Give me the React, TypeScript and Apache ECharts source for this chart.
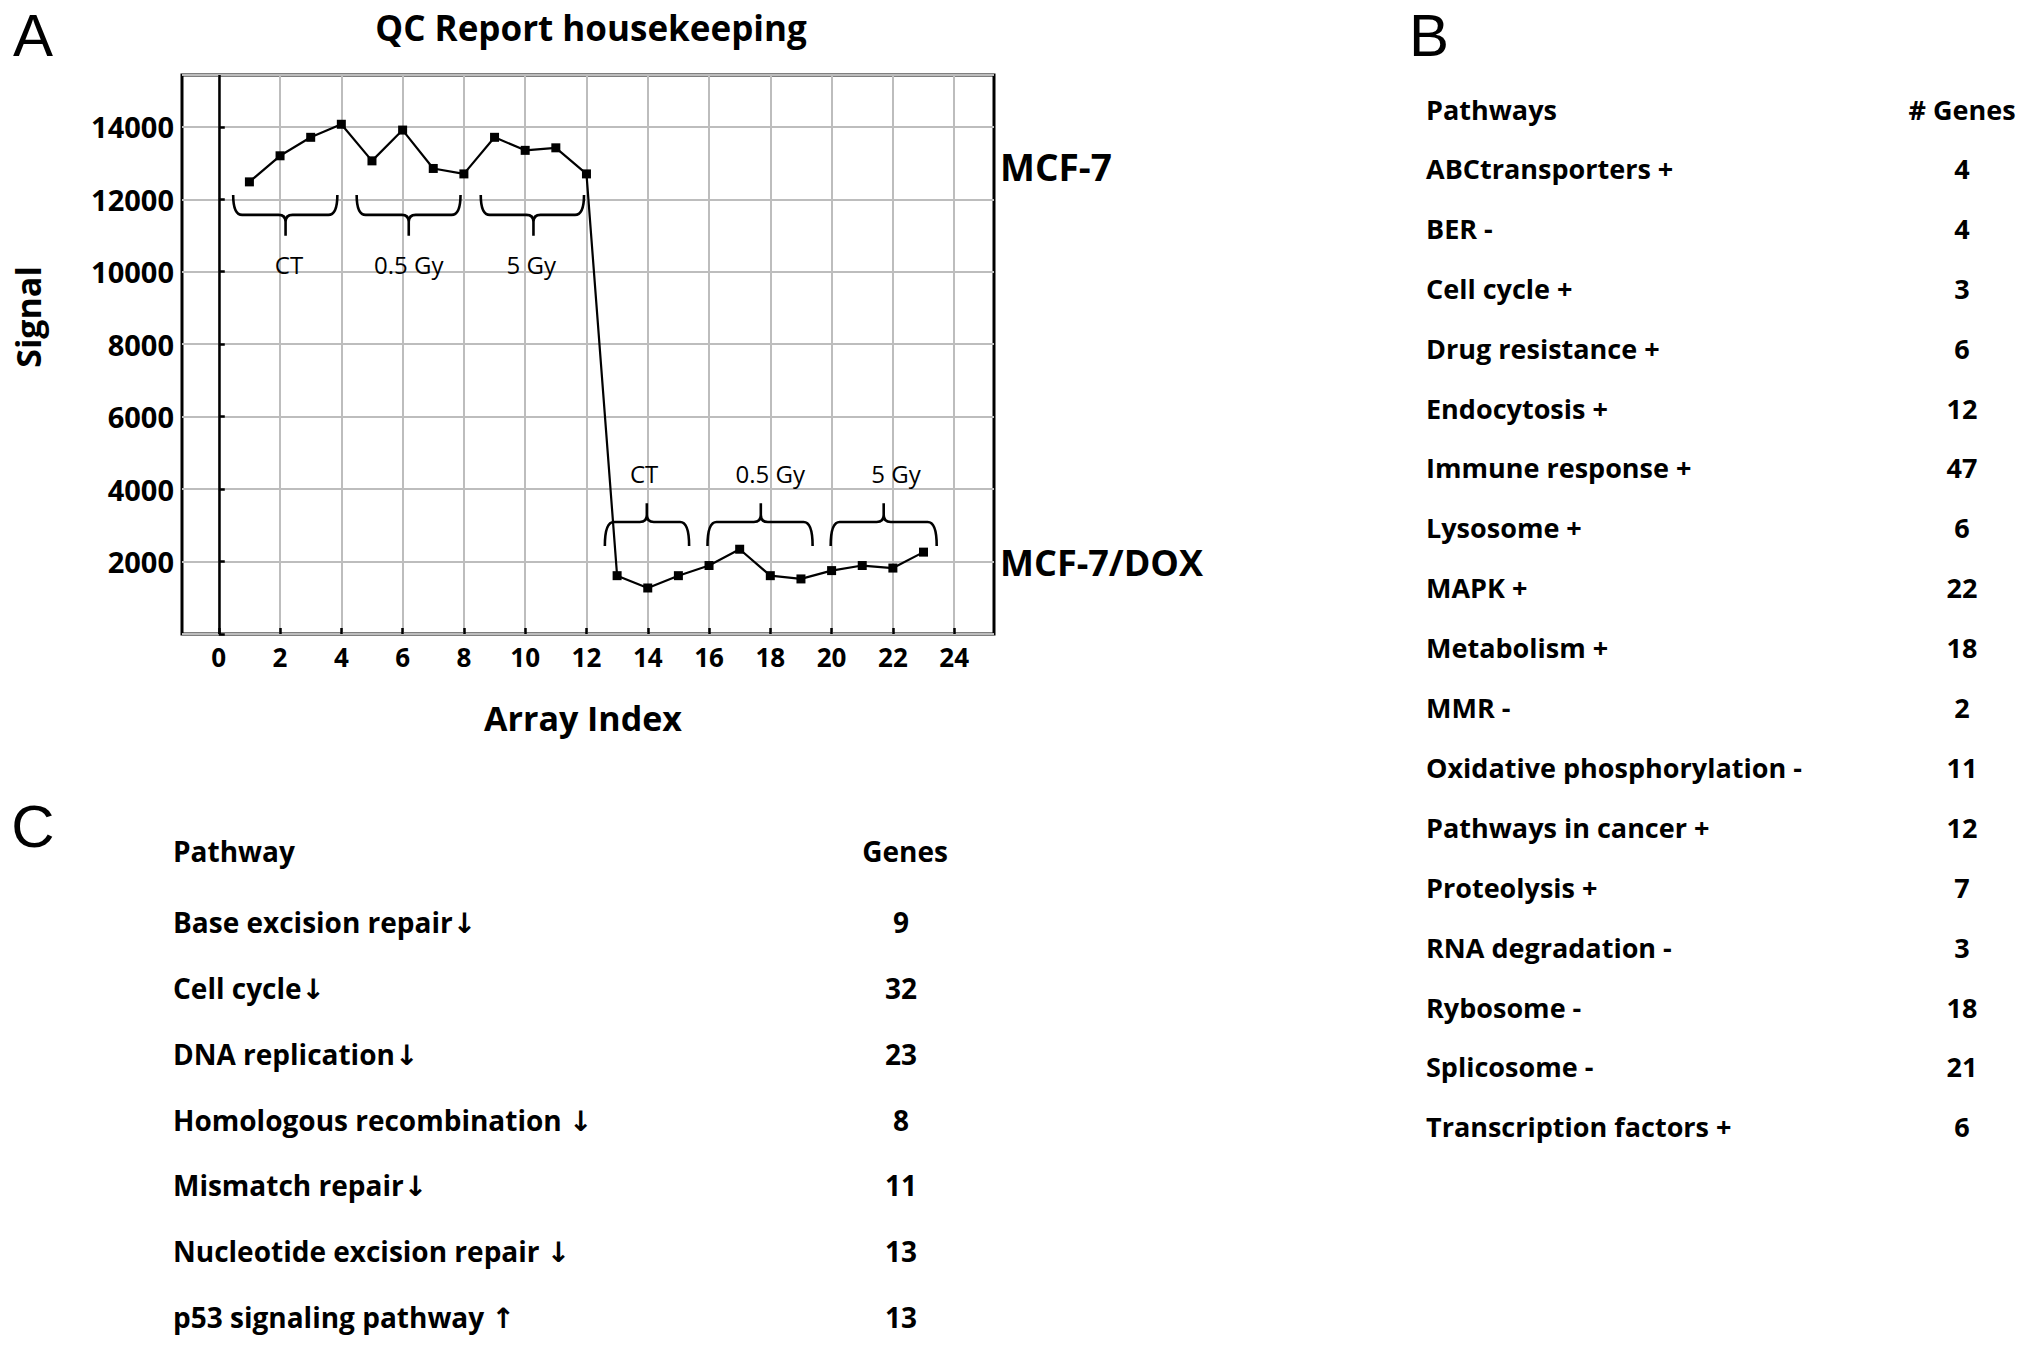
import { useEffect, useRef } from "react";
import * as echarts from "echarts";

// ---------- Panel A data ----------
const arrayIndex = [1, 2, 3, 4, 5, 6, 7, 8, 9, 10, 11, 12, 13, 14, 15, 16, 17, 18, 19, 20, 21, 22, 23];
const signal = [
  12480, 13200, 13710, 14070, 13060, 13910, 12850, 12700, 13710, 13350, 13420, 12700,
  1610, 1270, 1610, 1890, 2340, 1610, 1520, 1750, 1890, 1820, 2260,
];
const xTickValues = [0, 2, 4, 6, 8, 10, 12, 14, 16, 18, 20, 22, 24];
const zeroLine = [0];

// brace annotations (data coordinates)
const braceLabels = ["CT", "0.5 Gy", "5 Gy", "CT", "0.5 Gy", "5 Gy"];
const braceStart = [0.47, 4.5, 8.55, 12.6, 15.95, 19.97];
const braceEnd = [3.87, 7.89, 11.92, 15.35, 19.38, 23.43];
const braceTip = [2.18, 6.2, 10.27, 13.97, 17.69, 21.7];
const braceEdge = [12120, 12120, 12120, 2430, 2430, 2430];
const braceBar = [11570, 11570, 11570, 3090, 3090, 3090];
const bracePoint = [10990, 10990, 10990, 3610, 3610, 3610];
const braceLabelX = [2.29, 6.2, 10.2, 13.88, 18.0, 22.1];
const braceLabelY = [10190, 10190, 10190, 4420, 4420, 4420];

const cellLines = ["MCF-7", "MCF-7/DOX"];

// ---------- Panel B data ----------
const pathwaysB = [
  "ABCtransporters +",
  "BER -",
  "Cell cycle +",
  "Drug resistance +",
  "Endocytosis +",
  "Immune response +",
  "Lysosome +",
  "MAPK +",
  "Metabolism +",
  "MMR -",
  "Oxidative phosphorylation -",
  "Pathways in cancer +",
  "Proteolysis +",
  "RNA degradation -",
  "Rybosome -",
  "Splicosome -",
  "Transcription factors +",
];
const genesB = [4, 4, 3, 6, 12, 47, 6, 22, 18, 2, 11, 12, 7, 3, 18, 21, 6];

// ---------- Panel C data ----------
const pathwaysC = [
  "Base excision repair\u2193",
  "Cell cycle\u2193",
  "DNA replication\u2193",
  "Homologous recombination \u2193",
  "Mismatch repair\u2193",
  "Nucleotide excision repair \u2193",
  "p53 signaling pathway \u2191",
];
const genesC = [9, 32, 23, 8, 11, 13, 13];

const FONT = "'Open Sans', 'DejaVu Sans', sans-serif";

export default function App() {
  const ref = useRef<HTMLDivElement>(null);

  useEffect(() => {
    document.body.style.margin = "0";
    const chart = echarts.init(ref.current!, null, { renderer: "svg" });

    const graphics: any[] = [];
    const txt = (
      text: string,
      x: number,
      y: number,
      size: number,
      weight: string,
      align: string,
      family = FONT,
      extra: any = {}
    ) => ({
      type: "text",
      x,
      y,
      ...extra,
      style: {
        text,
        fill: "#000",
        fontSize: size,
        fontWeight: weight,
        fontFamily: family,
        align,
        verticalAlign: "middle",
      },
    });

    // panel letters
    graphics.push(txt("A", 33, 35, 60, "normal", "center", "'Liberation Sans', Arial, sans-serif"));
    graphics.push(txt("B", 1429, 35, 60, "normal", "center", "'Liberation Sans', Arial, sans-serif"));
    graphics.push(txt("C", 33, 826, 60, "normal", "center", "'Liberation Sans', Arial, sans-serif"));

    // panel A titles
    graphics.push(txt("QC Report housekeeping", 591, 27, 35, "bold", "center"));
    graphics.push(txt("Array Index", 583, 718, 34, "bold", "center"));
    graphics.push(txt("Signal", 28, 317, 34, "bold", "center", FONT, { rotation: Math.PI / 2 }));
    graphics.push(txt(cellLines[0], 1000, 166, 37, "bold", "left"));
    graphics.push(txt(cellLines[1], 1000, 562, 36, "bold", "left"));

    // panel B table
    graphics.push(txt("Pathways", 1426, 109, 27, "bold", "left"));
    graphics.push(txt("# Genes", 1962, 109, 27, "bold", "center"));
    pathwaysB.forEach((p, i) => {
      const y = 168.4 + i * 59.9;
      graphics.push(txt(p, 1426, y, 27, "bold", "left"));
      graphics.push(txt(String(genesB[i]), 1962, y, 27, "bold", "center"));
    });

    // panel C table
    graphics.push(txt("Pathway", 173, 851, 28, "bold", "left"));
    graphics.push(txt("Genes", 905, 851, 28, "bold", "center"));
    pathwaysC.forEach((p, i) => {
      const y = 922 + i * 65.85;
      graphics.push(txt(p, 173, y, 28, "bold", "left"));
      graphics.push(txt(String(genesC[i]), 901, y, 28, "bold", "center"));
    });

    const option: any = {
      animation: false,
      backgroundColor: "#fff",
      grid: {
        left: 182,
        top: 75,
        width: 812,
        height: 559,
        show: true,
        borderColor: "#000",
        borderWidth: 3,
        backgroundColor: "transparent",
        containLabel: false,
      },
      xAxis: {
        type: "value",
        min: -1.2,
        max: 25.3,
        axisLine: { show: false },
        axisTick: {
          show: true,
          inside: true,
          length: 6,
          customValues: xTickValues,
          lineStyle: { color: "#000", width: 2.5 },
        },
        axisLabel: {
          customValues: xTickValues,
          color: "#000",
          fontSize: 26,
          fontWeight: "bold",
          fontFamily: FONT,
          margin: 10,
        },
        splitLine: { show: true, lineStyle: { color: "#bdbdbd", width: 2 } },
      },
      yAxis: {
        type: "value",
        min: 0,
        max: 15430,
        interval: 2000,
        axisLine: { show: false },
        axisTick: {
          show: true,
          inside: true,
          length: 6,
          lineStyle: { color: "#000", width: 2.5 },
        },
        axisLabel: {
          color: "#000",
          fontSize: 29,
          fontWeight: "bold",
          fontFamily: FONT,
          margin: 8,
          showMaxLabel: false,
          formatter: (v: number) => (v > 0 && v % 2000 === 0 ? String(v) : ""),
        },
        splitLine: { show: true, lineStyle: { color: "#bdbdbd", width: 2 } },
      },
      series: [
        {
          type: "line",
          data: arrayIndex.map((x, i) => [x, signal[i]]),
          symbol: "rect",
          symbolSize: 9,
          itemStyle: { color: "#000" },
          lineStyle: { color: "#000", width: 2.2 },
          z: 5,
          markLine: {
            silent: true,
            symbol: "none",
            label: { show: false },
            lineStyle: { color: "#000", width: 2.5, type: "solid" },
            data: zeroLine.map((v) => ({ xAxis: v })),
          },
        },
        {
          type: "custom",
          coordinateSystem: "cartesian2d",
          z: 4,
          data: braceLabels.map((_, i) => [
            braceStart[i],
            braceEnd[i],
            braceTip[i],
            braceEdge[i],
            braceBar[i],
            bracePoint[i],
            braceLabelX[i],
            braceLabelY[i],
          ]),
          encode: { x: [0, 1, 2, 6], y: [3, 4, 5, 7] },
          renderItem: (params: any, api: any) => {
            const x0 = api.coord([api.value(0), api.value(3)]);
            const x1 = api.coord([api.value(1), api.value(3)]);
            const tb = api.coord([api.value(2), api.value(4)]);
            const tp = api.coord([api.value(2), api.value(5)]);
            const yE = x0[1];
            const yB = tb[1];
            const yP = tp[1];
            const tx = tb[0];
            const dir = Math.sign(yP - yB);
            const r = 9;
            const rt = 7;
            const d = rt * dir;
            const path =
              `M${x0[0]},${yE} Q${x0[0]},${yB} ${x0[0] + r},${yB} L${tx - rt},${yB} ` +
              `Q${tx},${yB} ${tx},${yB + d} L${tx},${yP} ` +
              `M${tx},${yB + d} Q${tx},${yB} ${tx + rt},${yB} L${x1[0] - r},${yB} ` +
              `Q${x1[0]},${yB} ${x1[0]},${yE}`;
            const lp = api.coord([api.value(6), api.value(7)]);
            return {
              type: "group",
              children: [
                {
                  type: "path",
                  shape: { pathData: path },
                  style: { stroke: "#000", fill: "none", lineWidth: 2.6 },
                },
                {
                  type: "text",
                  x: lp[0],
                  y: lp[1],
                  style: {
                    text: braceLabels[params.dataIndex],
                    fill: "#000",
                    fontSize: 24,
                    fontFamily: FONT,
                    align: "center",
                    verticalAlign: "middle",
                  },
                },
              ],
            };
          },
        },
      ],
      graphic: graphics,
    };

    chart.setOption(option);
    return () => chart.dispose();
  }, []);

  return <div ref={ref} style={{ width: 2031, height: 1346 }} />;
}
